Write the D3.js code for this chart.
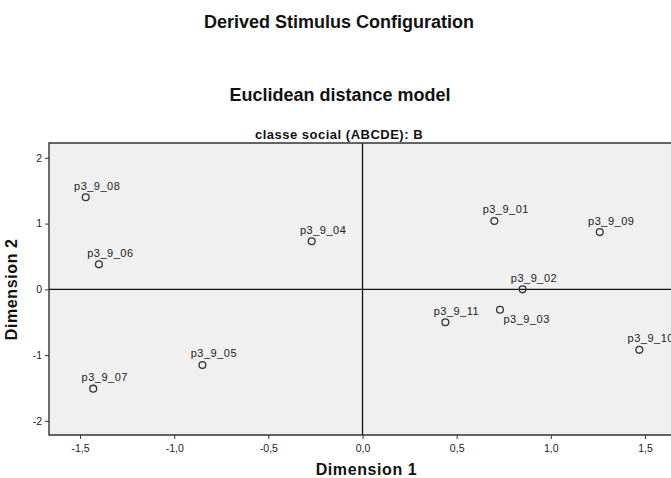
<!DOCTYPE html>
<html>
<head>
<meta charset="utf-8">
<script src="https://cdn.jsdelivr.net/npm/d3@7"></script>
<style>
    body { margin: 0; background: #fff; overflow: hidden; }
    svg { display: block; font-family: "Liberation Sans", Arial, sans-serif; }
</style>
</head>
<body>
<div id="chart"></div>
<script>
// Stimulus names and coordinates (Dimension 1, Dimension 2)
const stimuli = ["p3_9_01", "p3_9_02", "p3_9_03", "p3_9_04", "p3_9_05", "p3_9_06",
    "p3_9_07", "p3_9_08", "p3_9_09", "p3_9_10", "p3_9_11"];
const dim1 = [0.70, 0.85, 0.73, -0.27, -0.85, -1.40, -1.43, -1.47, 1.26, 1.47, 0.44];
const dim2 = [1.04, 0.00, -0.31, 0.73, -1.15, 0.38, -1.51, 1.40, 0.87, -0.92, -0.50];

// Tick values
const xTicks = [-1.5, -1.0, -0.5, 0.0, 0.5, 1.0, 1.5];
const yTicks = [-2, -1, 0, 1, 2];

// Labels drawn below-right instead of above
const labelBelow = ["p3_9_03"];

const width = 671, height = 478;
const plot = { left: 49, top: 143, bottom: 435 };

const data = stimuli.map((name, i) => ({ name: name, x: dim1[i], y: dim2[i] }));

const svg = d3.select("#chart")
    .append("svg")
    .attr("width", width)
    .attr("height", height);

// Scales
const x = d3.scaleLinear()
    .domain([-1.665, 1.72])
    .range([plot.left, plot.left + 3.385 * 188.3]);

const y = d3.scaleLinear()
    .domain([-2.215, 2.225])
    .range([plot.bottom, plot.top]);

const fmt = d => d3.format(".1f")(d).replace(".", ",").replace("\u2212", "-");

// Plot background
svg.append("rect")
    .attr("x", plot.left)
    .attr("y", plot.top)
    .attr("width", x.range()[1] - plot.left)
    .attr("height", plot.bottom - plot.top)
    .attr("fill", "#f0f0f0");

// Zero lines
svg.append("line")
    .attr("x1", x(0)).attr("x2", x(0))
    .attr("y1", plot.top).attr("y2", plot.bottom)
    .attr("stroke", "#111").attr("stroke-width", 1.3);
svg.append("line")
    .attr("x1", plot.left).attr("x2", x.range()[1])
    .attr("y1", y(0)).attr("y2", y(0))
    .attr("stroke", "#111").attr("stroke-width", 1.3);

// Frame (left, top, bottom)
svg.append("path")
    .attr("d", `M${x.range()[1]},${plot.top}H${plot.left}V${plot.bottom}H${x.range()[1]}`)
    .attr("fill", "none")
    .attr("stroke", "#333")
    .attr("stroke-width", 1.4);

// Axes
const xAxis = svg.append("g")
    .attr("transform", `translate(0,${plot.bottom})`)
    .call(d3.axisBottom(x).tickValues(xTicks).tickFormat(fmt).tickSize(4).tickPadding(6));

const yAxis = svg.append("g")
    .attr("transform", `translate(${plot.left},0)`)
    .call(d3.axisLeft(y).tickValues(yTicks).tickFormat(d => String(d)).tickSize(4).tickPadding(3));

[xAxis, yAxis].forEach(ax => {
    ax.select(".domain").remove();
    ax.selectAll(".tick line").attr("stroke", "#333");
    ax.selectAll(".tick text")
        .attr("fill", "#222")
        .style("font-size", "10.5px")
        .style("font-family", "'Liberation Sans', Arial, sans-serif");
});

// Points
svg.append("g")
    .selectAll("circle")
    .data(data)
    .join("circle")
    .attr("cx", d => x(d.x))
    .attr("cy", d => y(d.y))
    .attr("r", 3.4)
    .attr("fill", "none")
    .attr("stroke", "#333")
    .attr("stroke-width", 1.3);

// Point labels
svg.append("g")
    .selectAll("text")
    .data(data)
    .join("text")
    .attr("x", d => labelBelow.includes(d.name) ? x(d.x) + 3.5 : x(d.x) - 11.7)
    .attr("y", d => labelBelow.includes(d.name) ? y(d.y) + 13 : y(d.y) - 7.5)
    .attr("fill", "#222")
    .style("font-size", "11px")
    .style("letter-spacing", "0.5px")
    .text(d => d.name);

// Titles
const titles = [
    { text: "Derived Stimulus Configuration", x: 339, y: 28, size: 18, ls: 0 },
    { text: "Euclidean distance model", x: 340, y: 101, size: 18, ls: 0 },
    { text: "classe social (ABCDE): B", x: 339, y: 138.5, size: 13, ls: 0.5 }
];
svg.append("g")
    .selectAll("text")
    .data(titles)
    .join("text")
    .attr("x", d => d.x)
    .attr("y", d => d.y)
    .attr("text-anchor", "middle")
    .attr("font-weight", "bold")
    .attr("fill", "#111")
    .style("font-size", d => d.size + "px")
    .style("letter-spacing", d => d.ls + "px")
    .text(d => d.text);

// Axis titles
svg.append("text")
    .attr("x", 366.5)
    .attr("y", 475)
    .attr("text-anchor", "middle")
    .attr("font-weight", "bold")
    .attr("fill", "#111")
    .style("font-size", "16px")
    .style("letter-spacing", "0.6px")
    .text("Dimension 1");

svg.append("text")
    .attr("transform", `translate(17,${y(0)}) rotate(-90)`)
    .attr("text-anchor", "middle")
    .attr("font-weight", "bold")
    .attr("fill", "#111")
    .style("font-size", "16px")
    .style("letter-spacing", "0.6px")
    .text("Dimension 2");
</script>
</body>
</html>
